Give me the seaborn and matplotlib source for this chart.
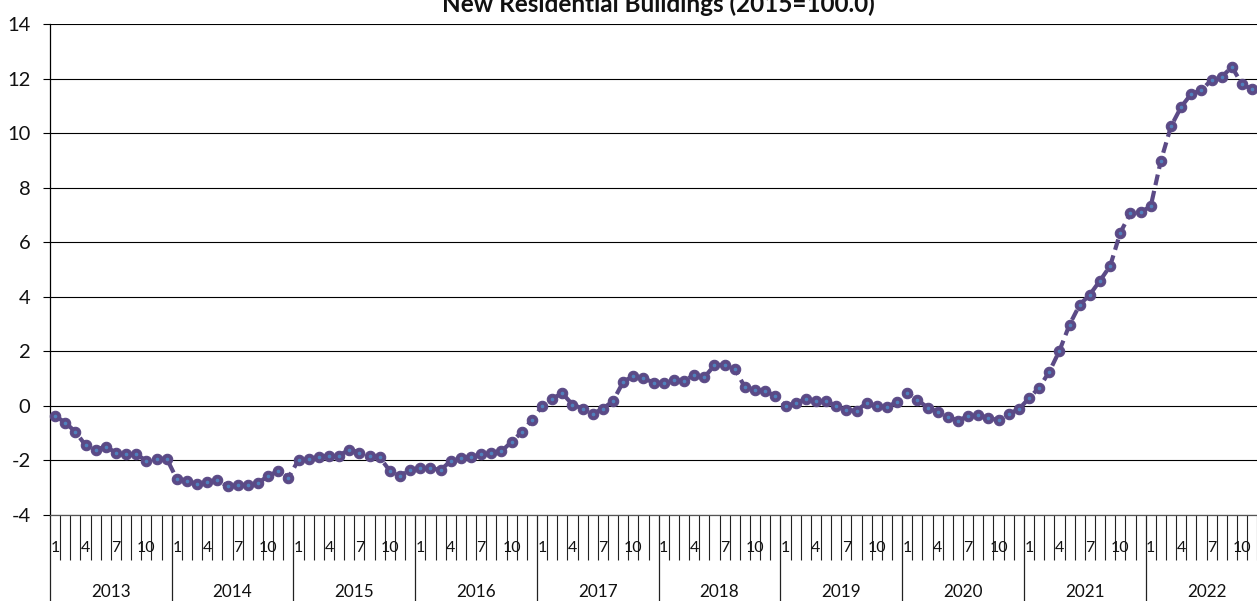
import numpy as np
import pandas as pd
import matplotlib
matplotlib.use("Agg")
import matplotlib.pyplot as plt
from matplotlib.ticker import MultipleLocator, FixedLocator, NullFormatter
import seaborn as sns

# ── data ────────────────────────────────────────────
title = "New Residential Buildings (2015=100.0)"
years = ["2013", "2014", "2015", "2016", "2017", "2018", "2019", "2020", "2021", "2022"]
month_labels = ["1", "4", "7", "10"]

values = [
    # 2013
    -0.37, -0.61, -0.95, -1.44, -1.60, -1.50, -1.71, -1.77, -1.78, -2.01, -1.95, -1.93,
    # 2014
    -2.68, -2.74, -2.88, -2.80, -2.72, -2.95, -2.90, -2.90, -2.84, -2.56, -2.39, -2.63,
    # 2015
    -1.98, -1.96, -1.89, -1.82, -1.82, -1.60, -1.71, -1.82, -1.89, -2.38, -2.56, -2.34,
    # 2016
    -2.29, -2.28, -2.35, -2.02, -1.90, -1.88, -1.78, -1.74, -1.66, -1.32, -0.96, -0.51,
    # 2017
    -0.02, 0.27, 0.46, 0.05, -0.10, -0.29, -0.10, 0.18, 0.88, 1.10, 1.02, 0.85,
    # 2018
    0.85, 0.94, 0.91, 1.15, 1.05, 1.49, 1.51, 1.37, 0.68, 0.60, 0.54, 0.37,
    # 2019
    0.00, 0.10, 0.26, 0.17, 0.18, 0.00, -0.16, -0.17, 0.10, 0.00, -0.05, 0.16,
    # 2020
    0.49, 0.22, -0.06, -0.22, -0.40, -0.54, -0.37, -0.33, -0.45, -0.52, -0.29, -0.12,
    # 2021
    0.28, 0.67, 1.25, 2.02, 2.98, 3.71, 4.08, 4.59, 5.13, 6.35, 7.06, 7.10,
    # 2022
    7.32, 8.99, 10.25, 10.96, 11.44, 11.57, 11.96, 12.06, 12.43, 11.79, 11.61,
]

df = pd.DataFrame({"value": values})
df["slot"] = np.arange(len(df)) + 0.5      # category slot centre

# ── style ───────────────────────────────────────────
sns.set_theme(style="white")
plt.rcParams["font.family"] = ["Lato", "DejaVu Sans"]
plt.rcParams["axes.unicode_minus"] = False

line_col = "#5b4a86"
n_slots = 12 * len(years)

fig = plt.figure(figsize=(12.57, 6.01), dpi=100)
W, H = 1257, 601
ax = fig.add_axes([50 / W, 1 - 515 / H, 1217.4 / W, 491 / H])

sns.lineplot(data=df, x="slot", y="value", ax=ax, color=line_col,
             linewidth=3.0, linestyle=(0, (2.6, 1.4)), marker="o",
             markersize=7.5, markeredgecolor=line_col, markerfacecolor=line_col,
             markeredgewidth=0.8, clip_on=False, zorder=3)
# small blue dot in the middle of each marker
ax.plot(df["slot"], df["value"], linestyle="none", marker="o", markersize=1.6,
        color="#4f81bd", clip_on=False, zorder=4)

ax.set_xlim(0, n_slots)
ax.set_ylim(-4, 14)
ax.yaxis.set_major_locator(MultipleLocator(2))
ax.grid(axis="y", color="black", linewidth=0.8)
ax.set_axisbelow(True)

for s in ["top", "right"]:
    ax.spines[s].set_visible(False)
ax.spines["left"].set_color("black")
ax.spines["left"].set_linewidth(0.9)
ax.spines["bottom"].set_color("#555555")
ax.spines["bottom"].set_linewidth(0.9)

ax.tick_params(axis="y", direction="out", length=5, width=0.8, color="black",
               labelsize=14.5, pad=9, left=True, labelcolor="#111111")

# category axis: month ticks + year separators
ax.xaxis.set_major_locator(FixedLocator(np.arange(0, n_slots + 1, 12)))
ax.xaxis.set_minor_locator(FixedLocator(np.arange(0, n_slots + 1, 1)))
ax.xaxis.set_major_formatter(NullFormatter())
ax.tick_params(axis="x", which="major", direction="out", length=70, width=0.9,
               color="#222222", bottom=True)
ax.tick_params(axis="x", which="minor", direction="out", length=32.5, width=0.8,
               color="#222222", bottom=True)

for yi, yr in enumerate(years):
    for lbl in month_labels:
        m = int(lbl) - 1
        ax.annotate(lbl, xy=(yi * 12 + m + 0.5, 0), xycoords=("data", "axes fraction"),
                    xytext=(0, -23.4), textcoords="offset points",
                    ha="center", va="center", fontsize=11.5, color="#111111",
                    annotation_clip=False)
    ax.annotate(yr, xy=(yi * 12 + 6, 0), xycoords=("data", "axes fraction"),
                xytext=(0, -55.5), textcoords="offset points",
                ha="center", va="center", fontsize=12.3, color="#111111",
                annotation_clip=False)

ax.set_xlabel("")
ax.set_ylabel("")

fig.text(658 / W, 1 - 12 / H, title, ha="center", va="baseline",
         fontsize=17.5, fontweight="bold", color="#111111")

fig.savefig("out.png", dpi=100)
